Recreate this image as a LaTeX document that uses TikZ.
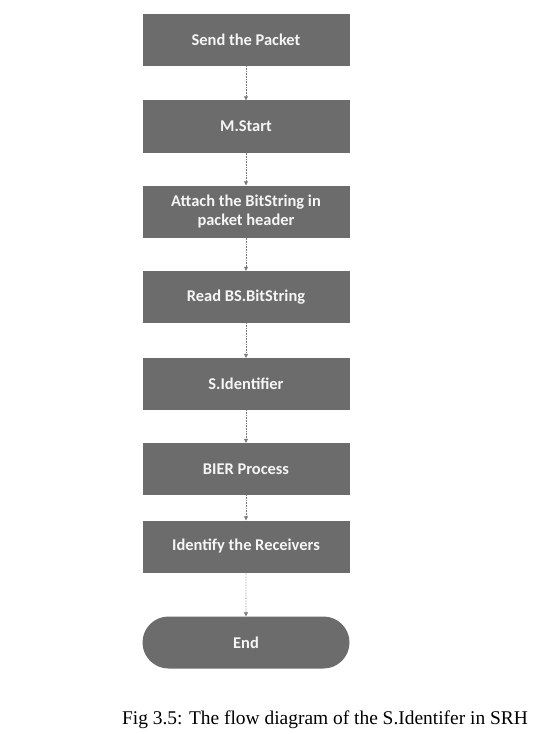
\documentclass[tikz,border=0pt]{standalone}
\usepackage{fontspec}
\setmainfont{Liberation Serif}
\newfontfamily\boxfont{Carlito}
\usetikzlibrary{arrows.meta,shapes.misc}
\definecolor{boxgray}{RGB}{108,108,108}
\definecolor{linegray}{RGB}{120,120,120}
\tikzset{
  stepbox/.style={draw=none, fill=boxgray, minimum width=207bp, minimum height=52bp,
    text=white!92!gray, font=\boxfont\bfseries\fontsize{16.5}{19}\selectfont, align=center, inner sep=0pt},
  endbox/.style={stepbox, rounded rectangle},
  flow/.style={draw=linegray, line width=0.6bp, densely dotted, -{Triangle[length=4bp,width=4bp]}}
}
\begin{document}
\begin{tikzpicture}[x=1bp,y=-1bp]
\useasboundingbox (0,0) rectangle (541,734);
\node[stepbox] (n1) at (246,40) {Send the Packet};
\node[stepbox] (n2) at (246,126.5) {M.Start};
\node[stepbox] (n3) at (246,211.5) {Attach the BitString in\\packet header};
\node[stepbox] (n4) at (246,297) {Read BS.BitString};
\node[stepbox] (n5) at (246,384) {S.Identifier};
\node[stepbox] (n6) at (246,469) {BIER Process};
\node[stepbox] (n7) at (246,546.5) {Identify the Receivers};
\node[endbox] (n8) at (246,642.5) {End};
\draw[flow] (n1) -- (n2);
\draw[flow] (n2) -- (n3);
\draw[flow] (n3) -- (n4);
\draw[flow] (n4) -- (n5);
\draw[flow] (n5) -- (n6);
\draw[flow] (n6) -- (n7);
\draw[flow] (n7) -- (n8);
\node[font=\fontsize{19.5}{22}\selectfont, anchor=base] (cap) at (325,724) {Fig 3.5: The flow diagram of the S.Identifer in SRH};
\end{tikzpicture}
\end{document}
